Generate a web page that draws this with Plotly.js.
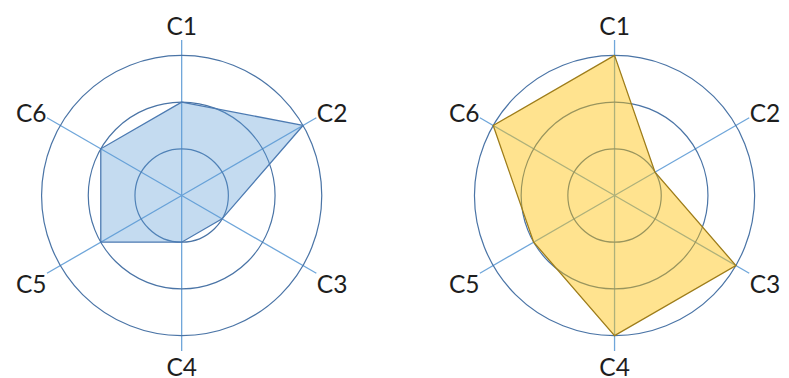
<!DOCTYPE html>
<html>
<head>
<meta charset="utf-8">
<script src="https://cdn.plot.ly/plotly-3.0.1.min.js"></script>
<style>html,body{margin:0;padding:0;background:#fff}#chart{width:789px;height:378px}</style>
</head>
<body>
<div id="chart"></div>
<script>
const categories = ['C1', 'C2', 'C3', 'C4', 'C5', 'C6'];
const seriesA = [2, 3, 1, 1, 2, 2];
const seriesB = [3, 1, 3, 3, 2, 3];
const ringVals = [1, 2, 3];

function closed(arr) { return arr.concat([arr[0]]); }

const traces = [
  {
    type: 'scatterpolar', subplot: 'polar',
    r: closed(seriesA), theta: closed(categories),
    mode: 'lines', fill: 'toself',
    fillcolor: 'rgba(91,155,213,0.36)',
    line: {color: '#4d7bb2', width: 1.3},
    hoverinfo: 'skip'
  },
  {
    type: 'scatterpolar', subplot: 'polar2',
    r: closed(seriesB), theta: closed(categories),
    mode: 'lines', fill: 'toself',
    fillcolor: 'rgba(255,192,0,0.44)',
    line: {color: '#9e7d1a', width: 1.3},
    hoverinfo: 'skip'
  }
];

function polarCfg(xdom) {
  return {
    domain: {x: xdom, y: [0.0714, 0.8942]},
    bgcolor: 'rgba(0,0,0,0)',
    radialaxis: {
      range: [0, 3.33], tickvals: ringVals, showticklabels: false,
      ticks: '', showline: false, gridcolor: '#4a74a6', gridwidth: 1.2,
      layer: 'below traces'
    },
    angularaxis: {
      type: 'category', categoryarray: categories,
      rotation: 90, direction: 'clockwise',
      showline: false, ticks: '', gridcolor: '#6fa6da', gridwidth: 1.3,
      tickfont: {family: 'Lato, sans-serif', size: 24.5, color: '#1e1e1e'},
      layer: 'below traces'
    }
  };
}

const layout = {
  width: 789, height: 378,
  margin: {l: 0, r: 0, t: 0, b: 0},
  paper_bgcolor: '#fff',
  showlegend: false,
  hovermode: false,
  polar: polarCfg([0.0327, 0.4278]),
  polar2: polarCfg([0.5815, 0.9763])
};

Plotly.newPlot('chart', traces, layout, {displayModeBar: false, staticPlot: true});
</script>
</body>
</html>
